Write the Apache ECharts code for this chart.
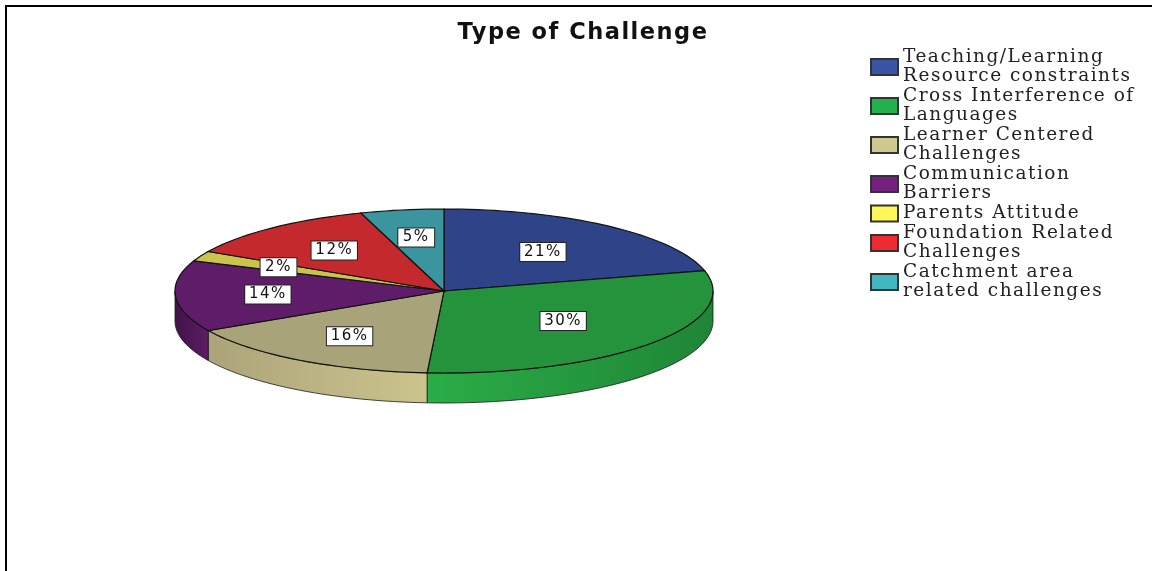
<!DOCTYPE html>
<html><head><meta charset="utf-8">
<style>html,body{margin:0;padding:0;background:#fff}#c{width:1152px;height:571px}</style>
<script src="https://cdn.jsdelivr.net/npm/echarts@6/dist/echarts.min.js"></script>
</head><body><div id="c"></div>
<script>
const categories = ['Teaching/Learning\nResource constraints','Cross Interference of\nLanguages','Learner Centered\nChallenges','Communication\nBarriers','Parents Attitude','Foundation Related\nChallenges','Catchment area\nrelated challenges'];
const values = [21,30,16,14,2,12,5];
const tickLabels = ['21%','30%','16%','14%','2%','12%','5%'];

const topColors = ['#2f4488','#25933b','#a9a37a','#5f1c68','#c9c44c','#c4292e','#3a959f'];
const legendColors = ['#3a55a5','#22b14c','#cfc98f','#75207f','#fdf75a','#ee2b33','#40b8c0'];
const wallColors = [
  ['#2f4488','#2f4488'],['#2bad47','#1f8536'],['#aca47a','#cbc48d'],['#43124a','#5c1c64'],
  ['#c9c44c','#c9c44c'],['#c4292e','#c4292e'],['#3a959f','#3a959f']];
const labelFrac = [0.60,0.575,0.655,0.656,0.68,0.64,0.66];
const FLAT = 82/269, DEPTH = 30, CY = 291, STEP = 0.5;

// the reference's text is stretched horizontally: widen all drawn text a little
const baseFillText = CanvasRenderingContext2D.prototype.fillText;
CanvasRenderingContext2D.prototype.fillText = function(){
  this.letterSpacing = '1.5px';
  return baseFillText.apply(this, arguments);
};

const chart = echarts.init(document.getElementById('c'), null, {renderer:'canvas'});
let acc = 0;
const series = categories.map((name,i)=>{
  const start = acc; acc += values[i]; const end = acc;
  return {
    name, type:'custom', coordinateSystem:'polar',
    itemStyle:{color:legendColors[i],borderColor:'#333',borderWidth:1.5},
    z: 2,
    data:[[start,end]],
    renderItem(params,api){
      const s=api.value(0), e=api.value(1);
      const pt=(r,a)=>{const p=api.coord([r,a]);return [p[0],CY+(p[1]-CY)*FLAT];};
      const arc=[];
      for(let a=s;a<e;a+=STEP) arc.push(pt(1,a));
      arc.push(pt(1,e));
      const children=[];
      const ws=Math.max(s,25), we=Math.min(e,75);
      if(ws<we){
        const front=[];
        for(let a=ws;a<we;a+=STEP) front.push(pt(1,a));
        front.push(pt(1,we));
        const low=front.slice().reverse().map(p=>[p[0],p[1]+DEPTH]);
        children.push({type:'polygon',shape:{points:front.concat(low)},z2:1,
          style:{fill:{type:'linear',x:0,y:0,x2:1,y2:0,colorStops:[{offset:0,color:wallColors[i][0]},{offset:1,color:wallColors[i][1]}]},stroke:'#1a1a1a',lineWidth:0.8}});
      }
      children.push({type:'polygon',shape:{points:[pt(0,s)].concat(arc)},z2:2,
        style:{fill:topColors[i],stroke:'#111',lineWidth:1.2}});
      const l=pt(labelFrac[i],(s+e)/2);
      children.push({type:'text',x:l[0],y:l[1],z2:5,style:{text:tickLabels[i],font:'15px "DejaVu Sans"',fill:'#111',
        align:'center',verticalAlign:'middle',backgroundColor:'#fff',borderColor:'#222',borderWidth:1,padding:[2,6,1,6]}});
      return {type:'group',children};
    }
  };
});
chart.setOption({
  animation:false,
  backgroundColor:'#fff',
  title:{text:'Type of Challenge',left:578,top:17,textAlign:'center',
    textStyle:{fontFamily:'DejaVu Sans',fontWeight:'bold',fontSize:22.5,color:'#111'}},
  polar:{center:[444,CY],radius:269},
  angleAxis:{type:'value',min:0,max:100,startAngle:90,clockwise:true,show:false},
  radiusAxis:{type:'value',min:0,max:1,show:false},
  legend:{orient:'vertical',left:865,top:43,itemWidth:27,itemHeight:16,itemGap:1,icon:'rect',
    data:categories,
    textStyle:{fontFamily:'DejaVu Serif',fontSize:18.5,lineHeight:19,color:'#222'}},
  graphic:[{type:'polyline',shape:{points:[[6,571],[6,6],[1152,6]]},style:{stroke:'#000',lineWidth:2,fill:null}}],
  series
});
</script></body></html>
